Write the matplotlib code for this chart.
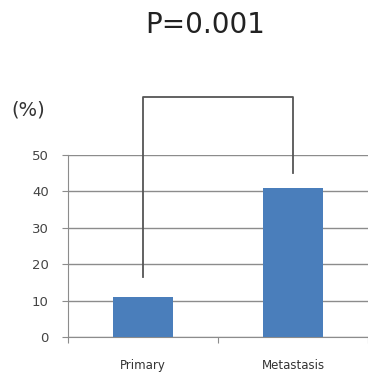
import matplotlib.pyplot as plt

# Data
categories = ['Primary', 'Metastasis']
values = [11, 41]
yticks = [0, 10, 20, 30, 40, 50]
p_label = 'P=0.001'
bracket_top = 66
bracket_ends = [16.5, 45]

fig = plt.figure(figsize=(3.68, 3.80), dpi=100)
ax = fig.add_axes([0.185, 0.113, 0.815, 0.479])

x = list(range(len(categories)))
ax.bar(x, values, width=0.4, color='#4a7ebb', zorder=3)

ax.set_xlim(-0.5, 1.5)
ax.set_ylim(0, 50)
ax.set_yticks(yticks)
ax.yaxis.grid(True, color='#8c8c8c', linewidth=1.0, zorder=0)
ax.set_axisbelow(True)

for s in ['top', 'right']:
    ax.spines[s].set_visible(False)
ax.spines['left'].set_color('#8c8c8c')
ax.spines['bottom'].set_color('#8c8c8c')

# category labels between boundary ticks
ax.set_xticks([-0.5, 0.5, 1.5])
ax.set_xticklabels([])
ax.set_xticks(x, minor=True)
ax.set_xticklabels(categories, minor=True, fontsize=8.5, color='#333333')
ax.tick_params(axis='x', which='minor', length=0, pad=16)
ax.tick_params(axis='x', which='major', length=4, color='#8c8c8c', direction='out')
ax.tick_params(axis='y', length=4, color='#8c8c8c', labelsize=9.5, labelcolor='#444444', pad=10)

# significance bracket
ax.plot([x[0], x[0], x[1], x[1]],
        [bracket_ends[0], bracket_top, bracket_top, bracket_ends[1]],
        color='#555555', linewidth=1.3, clip_on=False, zorder=4)

fig.text(0.03, 0.71, '(%)', fontsize=14, fontweight='medium', color='#333333', va='center')
fig.text(0.558, 0.935, p_label, fontsize=20, color='#222222', ha='center', va='center')

fig.savefig('out.png', dpi=100)
